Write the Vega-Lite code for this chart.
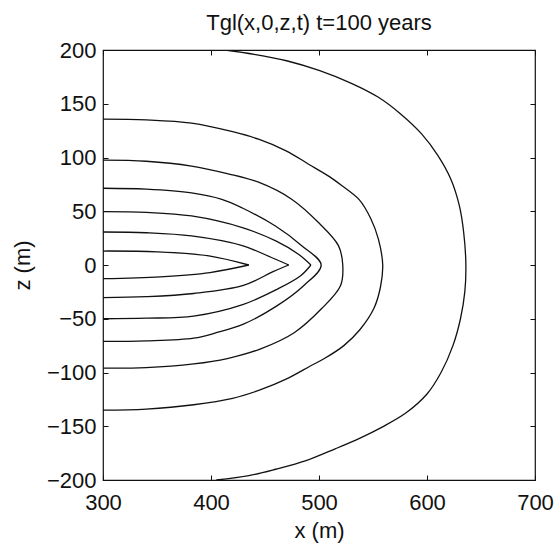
{
  "$schema": "https://vega.github.io/schema/vega-lite/v6.json",
  "autosize": {"type": "none"},
  "width": 432,
  "height": 430,
  "padding": {"left": 103, "top": 50, "right": 21, "bottom": 66},
  "background": "white",
  "title": {
    "text": "Tgl(x,0,z,t) t=100 years",
    "font": "Liberation Sans",
    "fontSize": 22,
    "fontWeight": "normal",
    "color": "#111",
    "anchor": "middle",
    "offset": 4
  },
  "config": {
    "view": {"stroke": "#111", "strokeWidth": 1.2},
    "axis": {
      "domain": false,
      "grid": false,
      "labelFlush": false,
      "labelOverlap": false,
      "tickColor": "#111",
      "tickSize": -5,
      "labelFont": "Liberation Sans",
      "labelFontSize": 22,
      "labelColor": "#111",
      "titleFont": "Liberation Sans",
      "titleFontSize": 22,
      "titleFontWeight": "normal",
      "titleColor": "#111"
    }
  },
  "data": {
    "values": [
      {"c": "A", "i": 0, "x": 413, "z": 200},
      {"c": "A", "i": 1, "x": 440, "z": 196},
      {"c": "A", "i": 2, "x": 470, "z": 190},
      {"c": "A", "i": 3, "x": 500, "z": 181},
      {"c": "A", "i": 4, "x": 530, "z": 169},
      {"c": "A", "i": 5, "x": 555, "z": 156},
      {"c": "A", "i": 6, "x": 575, "z": 141},
      {"c": "A", "i": 7, "x": 595, "z": 122},
      {"c": "A", "i": 8, "x": 610, "z": 102},
      {"c": "A", "i": 9, "x": 622, "z": 80},
      {"c": "A", "i": 10, "x": 630, "z": 55},
      {"c": "A", "i": 11, "x": 634, "z": 30},
      {"c": "A", "i": 12, "x": 636, "z": 0},
      {"c": "A", "i": 13, "x": 635, "z": -25},
      {"c": "A", "i": 14, "x": 631, "z": -50},
      {"c": "A", "i": 15, "x": 624, "z": -75},
      {"c": "A", "i": 16, "x": 613, "z": -100},
      {"c": "A", "i": 17, "x": 600, "z": -120},
      {"c": "A", "i": 18, "x": 580, "z": -138},
      {"c": "A", "i": 19, "x": 558, "z": -151},
      {"c": "A", "i": 20, "x": 538, "z": -161},
      {"c": "A", "i": 21, "x": 515, "z": -171},
      {"c": "A", "i": 22, "x": 488, "z": -182},
      {"c": "A", "i": 23, "x": 460, "z": -190},
      {"c": "A", "i": 24, "x": 435, "z": -196},
      {"c": "A", "i": 25, "x": 405, "z": -200},

      {"c": "B", "i": 0, "x": 300, "z": 135.7},
      {"c": "B", "i": 1, "x": 340, "z": 135},
      {"c": "B", "i": 2, "x": 382, "z": 132},
      {"c": "B", "i": 3, "x": 420, "z": 124},
      {"c": "B", "i": 4, "x": 444, "z": 117},
      {"c": "B", "i": 5, "x": 470, "z": 106},
      {"c": "B", "i": 6, "x": 490, "z": 94},
      {"c": "B", "i": 7, "x": 510, "z": 82},
      {"c": "B", "i": 8, "x": 521, "z": 74},
      {"c": "B", "i": 9, "x": 537, "z": 61},
      {"c": "B", "i": 10, "x": 548, "z": 43},
      {"c": "B", "i": 11, "x": 555, "z": 24},
      {"c": "B", "i": 12, "x": 559, "z": 0},
      {"c": "B", "i": 13, "x": 557, "z": -20},
      {"c": "B", "i": 14, "x": 551, "z": -40},
      {"c": "B", "i": 15, "x": 538, "z": -60},
      {"c": "B", "i": 16, "x": 523, "z": -75},
      {"c": "B", "i": 17, "x": 505, "z": -87},
      {"c": "B", "i": 18, "x": 492, "z": -94},
      {"c": "B", "i": 19, "x": 470, "z": -106},
      {"c": "B", "i": 20, "x": 446, "z": -116},
      {"c": "B", "i": 21, "x": 420, "z": -124},
      {"c": "B", "i": 22, "x": 384, "z": -130},
      {"c": "B", "i": 23, "x": 340, "z": -134},
      {"c": "B", "i": 24, "x": 300, "z": -135},

      {"c": "C", "i": 0, "x": 300, "z": 97.5},
      {"c": "C", "i": 1, "x": 340, "z": 96.5},
      {"c": "C", "i": 2, "x": 382, "z": 92},
      {"c": "C", "i": 3, "x": 415, "z": 85},
      {"c": "C", "i": 4, "x": 444, "z": 77},
      {"c": "C", "i": 5, "x": 475, "z": 61},
      {"c": "C", "i": 6, "x": 500, "z": 39},
      {"c": "C", "i": 7, "x": 518, "z": 18},
      {"c": "C", "i": 8, "x": 522, "z": 0},
      {"c": "C", "i": 9, "x": 520, "z": -19},
      {"c": "C", "i": 10, "x": 502, "z": -41},
      {"c": "C", "i": 11, "x": 477, "z": -63},
      {"c": "C", "i": 12, "x": 446, "z": -78},
      {"c": "C", "i": 13, "x": 415, "z": -87},
      {"c": "C", "i": 14, "x": 384, "z": -92},
      {"c": "C", "i": 15, "x": 340, "z": -95.5},
      {"c": "C", "i": 16, "x": 300, "z": -96},

      {"c": "D", "i": 0, "x": 300, "z": 71.4},
      {"c": "D", "i": 1, "x": 340, "z": 70.5},
      {"c": "D", "i": 2, "x": 382, "z": 67},
      {"c": "D", "i": 3, "x": 410, "z": 61},
      {"c": "D", "i": 4, "x": 429, "z": 53},
      {"c": "D", "i": 5, "x": 460, "z": 36},
      {"c": "D", "i": 6, "x": 484, "z": 18},
      {"c": "D", "i": 7, "x": 502, "z": 0},
      {"c": "D", "i": 8, "x": 486, "z": -19},
      {"c": "D", "i": 9, "x": 461, "z": -38},
      {"c": "D", "i": 10, "x": 430, "z": -55},
      {"c": "D", "i": 11, "x": 405, "z": -63},
      {"c": "D", "i": 12, "x": 384, "z": -68},
      {"c": "D", "i": 13, "x": 340, "z": -70.5},
      {"c": "D", "i": 14, "x": 300, "z": -71},

      {"c": "E+", "i": 0, "x": 300, "z": 49.7},
      {"c": "E+", "i": 1, "x": 340, "z": 49},
      {"c": "E+", "i": 2, "x": 382, "z": 45.6},
      {"c": "E+", "i": 3, "x": 429, "z": 34.8},
      {"c": "E+", "i": 4, "x": 460, "z": 22.4},
      {"c": "E+", "i": 5, "x": 481, "z": 10},
      {"c": "E+", "i": 6, "x": 492.5, "z": 0},
      {"c": "E-", "i": 6, "x": 492.5, "z": 0},
      {"c": "E-", "i": 7, "x": 483, "z": -10},
      {"c": "E-", "i": 8, "x": 461, "z": -22.7},
      {"c": "E-", "i": 9, "x": 430, "z": -36.6},
      {"c": "E-", "i": 10, "x": 384, "z": -47.5},
      {"c": "E-", "i": 11, "x": 340, "z": -49.5},
      {"c": "E-", "i": 12, "x": 300, "z": -50},

      {"c": "F+", "i": 0, "x": 300, "z": 30.7},
      {"c": "F+", "i": 1, "x": 340, "z": 30},
      {"c": "F+", "i": 2, "x": 382, "z": 27},
      {"c": "F+", "i": 3, "x": 429, "z": 18},
      {"c": "F+", "i": 4, "x": 456, "z": 7},
      {"c": "F+", "i": 5, "x": 472, "z": 0},
      {"c": "F-", "i": 5, "x": 472, "z": 0},
      {"c": "F-", "i": 6, "x": 458, "z": -6},
      {"c": "F-", "i": 7, "x": 430, "z": -19},
      {"c": "F-", "i": 8, "x": 384, "z": -26.5},
      {"c": "F-", "i": 9, "x": 340, "z": -29.5},
      {"c": "F-", "i": 10, "x": 300, "z": -30.4},

      {"c": "G+", "i": 0, "x": 300, "z": 13},
      {"c": "G+", "i": 1, "x": 350, "z": 12.3},
      {"c": "G+", "i": 2, "x": 398, "z": 8.5},
      {"c": "G+", "i": 3, "x": 435, "z": 0},
      {"c": "G-", "i": 3, "x": 435, "z": 0},
      {"c": "G-", "i": 4, "x": 399, "z": -7},
      {"c": "G-", "i": 5, "x": 353, "z": -11},
      {"c": "G-", "i": 6, "x": 300, "z": -12.7}
    ]
  },
  "layer": [
    {
      "mark": {"type": "line", "color": "#111", "strokeWidth": 1.3, "interpolate": "catmull-rom", "clip": true},
      "encoding": {
        "x": {
          "field": "x", "type": "quantitative",
          "scale": {"domain": [300, 700], "nice": false, "zero": false},
          "axis": {"values": [300, 400, 500, 600, 700], "title": "x (m)", "labelPadding": 17, "titlePadding": 7}
        },
        "y": {
          "field": "z", "type": "quantitative",
          "scale": {"domain": [-200, 200], "nice": false, "zero": false},
          "axis": {"values": [-200, -150, -100, -50, 0, 50, 100, 150, 200], "title": "z (m)", "labelPadding": 12, "titlePadding": 12}
        },
        "detail": {"field": "c"},
        "order": {"field": "i", "type": "quantitative"}
      }
    },
    {
      "mark": {"type": "point", "opacity": 0},
      "encoding": {
        "x": {
          "field": "x", "type": "quantitative",
          "axis": {"orient": "top", "values": [300, 400, 500, 600, 700], "labels": false, "title": null}
        },
        "y": {
          "field": "z", "type": "quantitative",
          "axis": {"orient": "right", "values": [-200, -150, -100, -50, 0, 50, 100, 150, 200], "labels": false, "title": null}
        }
      }
    }
  ],
  "resolve": {"axis": {"x": "independent", "y": "independent"}}
}
